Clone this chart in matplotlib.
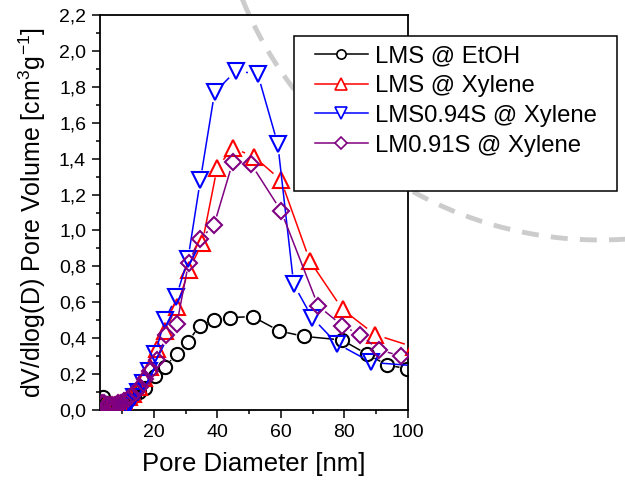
import matplotlib

matplotlib.use("Agg")
import matplotlib.pyplot as plt  # noqa: E402
import numpy as np  # noqa: E402
from matplotlib.collections import LineCollection  # noqa: E402
from matplotlib.lines import Line2D  # noqa: E402
from matplotlib.patches import Rectangle  # noqa: E402
from matplotlib.ticker import FuncFormatter, MultipleLocator  # noqa: E402

plt.rcParams["font.family"] = ["Liberation Sans", "DejaVu Sans"]
plt.rcParams["mathtext.fontset"] = "custom"
plt.rcParams["mathtext.rm"] = "Liberation Sans"
plt.rcParams["mathtext.it"] = "Liberation Sans:italic"

# LMS @ EtOH
etoh_d = [3.9, 5.0, 6.1, 7.2, 8.4, 9.6, 10.9, 12.3, 13.8, 15.4, 17.1, 20.3, 23.4,
          27.1, 30.7, 34.4, 38.8, 43.8, 51.1, 59.5, 67.3, 79.2, 87.2, 93.5, 99.8]
etoh_v = [0.07, 0.04, 0.03, 0.03, 0.03, 0.04, 0.05, 0.06, 0.08, 0.10, 0.12, 0.19, 0.24,
          0.31, 0.38, 0.47, 0.50, 0.515, 0.52, 0.44, 0.41, 0.39, 0.31, 0.25, 0.23]

# LMS @ Xylene
xyl_d = [4.5, 6.0, 7.5, 9.0, 10.5, 12.0, 13.5, 15.2, 17.0, 18.8, 20.8, 23.5, 27.1,
         31.0, 35.2, 39.9, 44.8, 51.6, 60.0, 69.1, 79.4, 89.6, 102.0]
xyl_v = [0.03, 0.03, 0.03, 0.04, 0.05, 0.07, 0.09, 0.13, 0.18, 0.24, 0.34, 0.44, 0.574,
         0.78, 0.93, 1.35, 1.46, 1.41, 1.28, 0.83, 0.56, 0.42, 0.35]

# LMS0.94S @ Xylene
s94_d = [10.5, 11.5, 12.6, 13.8, 15.1, 16.6, 18.3, 20.3, 23.4, 27.0, 30.7, 34.6, 39.1,
         45.9, 52.7, 59.0, 64.0, 69.8, 77.6, 88.5, 103.0]
s94_v = [0.00, 0.02, 0.04, 0.07, 0.10, 0.15, 0.22, 0.31, 0.50, 0.63, 0.84, 1.28, 1.77,
         1.89, 1.87, 1.48, 0.70, 0.515, 0.37, 0.265, 0.245]

# LM0.91S @ Xylene
s91_d = [3.5, 4.3, 5.1, 5.9, 6.8, 7.7, 8.6, 9.6, 10.6, 11.7, 12.9, 14.2, 15.6, 17.2,
         18.9, 20.8, 23.9, 27.2, 30.9, 34.4, 38.9, 44.8, 50.6, 60.0, 71.7, 79.3, 84.8,
         90.9, 97.9]
s91_v = [0.04, 0.04, 0.03, 0.03, 0.03, 0.03, 0.04, 0.04, 0.05, 0.06, 0.08, 0.10, 0.13,
         0.17, 0.22, 0.28, 0.415, 0.48, 0.82, 0.95, 1.03, 1.38, 1.37, 1.11, 0.58, 0.47,
         0.42, 0.335, 0.30]

labels = ["LMS @ EtOH", "LMS @ Xylene", "LMS0.94S @ Xylene", "LM0.91S @ Xylene"]
x_ticks = [20, 40, 60, 80, 100]

W, H = 625, 491
fig = plt.figure(figsize=(W / 100, H / 100), dpi=100)
ax = fig.add_axes([100 / W, 1 - 410 / H, 308 / W, 395 / H])
ax.set_facecolor("none")
ax.set_xlim(3, 100)
ax.set_ylim(0, 2.2)


def gapped_line(ax, x, y, gap, color, z):
    # Origin-style "gap to symbol": stop each segment short of the markers
    pts = ax.transData.transform(np.column_stack([x, y]))
    inv = ax.transData.inverted()
    segs = []
    for p0, p1 in zip(pts[:-1], pts[1:]):
        d = p1 - p0
        length = np.hypot(*d)
        if length <= 2 * gap + 1:
            continue
        u = d / length
        segs.append(inv.transform([p0 + u * gap, p1 - u * gap]))
    ax.add_collection(LineCollection(segs, colors=color, linewidths=1.1, zorder=z))


series = [
    (etoh_d, etoh_v, "black", "o", 9.5, 8),
    (xyl_d, xyl_v, "#ff0000", "^", 12, 10),
    (s94_d, s94_v, "#0000ff", "v", 12, 10),
    (s91_d, s91_v, "#800080", "D", 8.5, 9),
]
handles = []
for i, (d, v, c, m, ms, gap) in enumerate(series):
    gapped_line(ax, d, v, gap, c, 2 + i)
    ax.plot(d, v, ls="none", marker=m, ms=ms, mfc="none", mec=c, mew=1.5, zorder=2.5 + i)
    handles.append(Line2D([], [], color=c, lw=1.1, marker=m, ms=ms * 0.7,
                          mfc="white", mec=c, mew=1.2))

ax.xaxis.set_major_locator(MultipleLocator(20))
ax.xaxis.set_minor_locator(MultipleLocator(10))
ax.set_xticks(x_ticks)
ax.yaxis.set_major_locator(MultipleLocator(0.2))
ax.yaxis.set_minor_locator(MultipleLocator(0.1))
ax.yaxis.set_major_formatter(FuncFormatter(lambda val, pos: f"{val:.1f}".replace(".", ",")))
ax.tick_params(which="major", direction="out", length=6, width=1.1, labelsize=14, pad=4)
ax.tick_params(which="minor", direction="out", length=3, width=1.1)
ax.tick_params(top=False, right=False)
for sp in ax.spines.values():
    sp.set_linewidth(1.3)

ax.set_xlabel("Pore Diameter [nm]", fontsize=18.5, labelpad=8)
ax.set_ylabel("dV/dlog(D) Pore Volume [cm$^3$g$^{-1}$]", fontsize=18, labelpad=8)

# legend box sits partly outside the axes, as in the original
fig.add_artist(Rectangle((294 / W, 1 - 191 / H), 323 / W, 155 / H, transform=fig.transFigure,
                         facecolor="white", edgecolor="black", lw=1.1, zorder=4))
leg = fig.legend(handles, labels, loc="upper left",
                 bbox_to_anchor=(315 / W, 1 - 45 / H), bbox_transform=fig.transFigure,
                 fontsize=17.2, frameon=False, borderpad=0, borderaxespad=0,
                 handlelength=2.2, handletextpad=0.33, labelspacing=0.33)
leg.set_zorder(5)

# grey dashed arc in the background of the picture
t = np.radians(np.linspace(158, 80, 200))
px = 600 + 386 * np.cos(t)
py = -146 + 386 * np.sin(t)
fig.add_artist(Line2D(px / W, 1 - py / H, transform=fig.transFigure, color="#cccccc",
                      lw=3.5, ls=(0, (3.5, 2.5)), zorder=-1))

fig.savefig("out.png", dpi=100)
